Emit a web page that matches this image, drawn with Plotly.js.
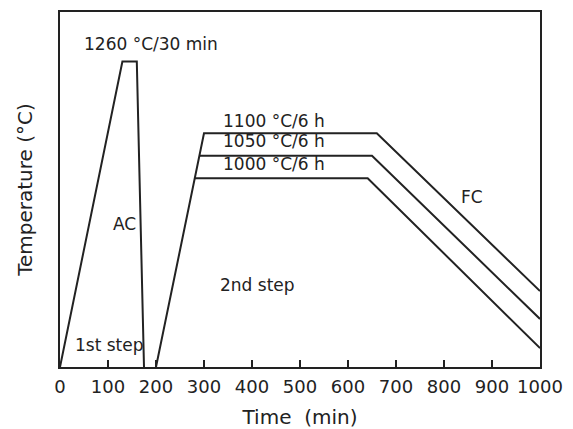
<!DOCTYPE html>
<html>
<head>
<meta charset="utf-8">
<script src="https://cdn.plot.ly/plotly-3.0.1.min.js"></script>
<style>html,body{margin:0;padding:0;background:#fff;}#chart{width:573px;height:429px;}</style>
</head>
<body>
<div id="chart"></div>
<script>
// Schematic heat-treatment route (time in min, temperature in °C on a schematic scale)
const roomT = 580; // schematic base of the temperature axis
const step1Time = [0, 130, 160, 175];
const step1Temp = [roomT, 1260, 1260, roomT];
const step2Time1100 = [200, 300, 660, 1000];
const step2Temp1100 = [roomT, 1100, 1100, 749];
const step2Time1050 = [290.4, 650, 1000];
const step2Temp1050 = [1050, 1050, 687];
const step2Time1000 = [281, 641, 1000];
const step2Temp1000 = [1000, 1000, 622];
const xTickVals = [0, 100, 200, 300, 400, 500, 600, 700, 800, 900, 1000];

const labelText = ['1260 °C/30 min', '1100 °C/6 h', '1050 °C/6 h', '1000 °C/6 h', 'AC', 'FC', '2nd step', '1st step'];
const labelTime = [190, 335, 335, 335, 134, 858, 412, 103];
const labelTemp = [1298, 1127, 1083, 1031, 898, 958, 762, 628];
const labelAnchor = ['center', 'left', 'left', 'left', 'center', 'center', 'center', 'center'];

const lineStyle = {color: '#222', width: 2};
const traces = [
  {x: step1Time, y: step1Temp},
  {x: step2Time1100, y: step2Temp1100},
  {x: step2Time1050, y: step2Temp1050},
  {x: step2Time1000, y: step2Temp1000}
].map(d => Object.assign(d, {type: 'scatter', mode: 'lines', line: lineStyle, hoverinfo: 'skip'}));

const fam = 'DejaVu Sans, Arial, sans-serif';
const tickFont = {family: fam, size: 18, color: '#222'};
const titleFont = {family: fam, size: 20, color: '#222'};
const annFont = {family: fam, size: 17, color: '#222'};

const layout = {
  width: 573, height: 429,
  margin: {l: 60, r: 33, t: 12, b: 62},
  showlegend: false,
  paper_bgcolor: '#fff', plot_bgcolor: '#fff',
  font: tickFont,
  xaxis: {
    range: [0, 1000], tickvals: xTickVals, ticktext: xTickVals.map(String),
    ticks: 'inside', ticklen: 7, tickwidth: 1.5, tickcolor: '#222',
    ticklabelstandoff: 2,
    showline: true, linecolor: '#222', linewidth: 2, mirror: true,
    showgrid: false, zeroline: false,
    tickfont: tickFont,
    title: {text: 'Time  (min)', font: titleFont, standoff: 16}
  },
  yaxis: {
    range: [roomT, 1370],
    showticklabels: false, ticks: '',
    showline: true, linecolor: '#222', linewidth: 2, mirror: true,
    showgrid: false, zeroline: false,
    title: {text: 'Temperature (°C)', font: titleFont, standoff: 20}
  },
  annotations: labelText.map((t, i) => ({
    text: t, x: labelTime[i], y: labelTemp[i], xref: 'x', yref: 'y',
    xanchor: labelAnchor[i], yanchor: 'middle',
    showarrow: false, font: annFont
  }))
};

Plotly.newPlot('chart', traces, layout, {displayModeBar: false, staticPlot: true});
</script>
</body>
</html>
